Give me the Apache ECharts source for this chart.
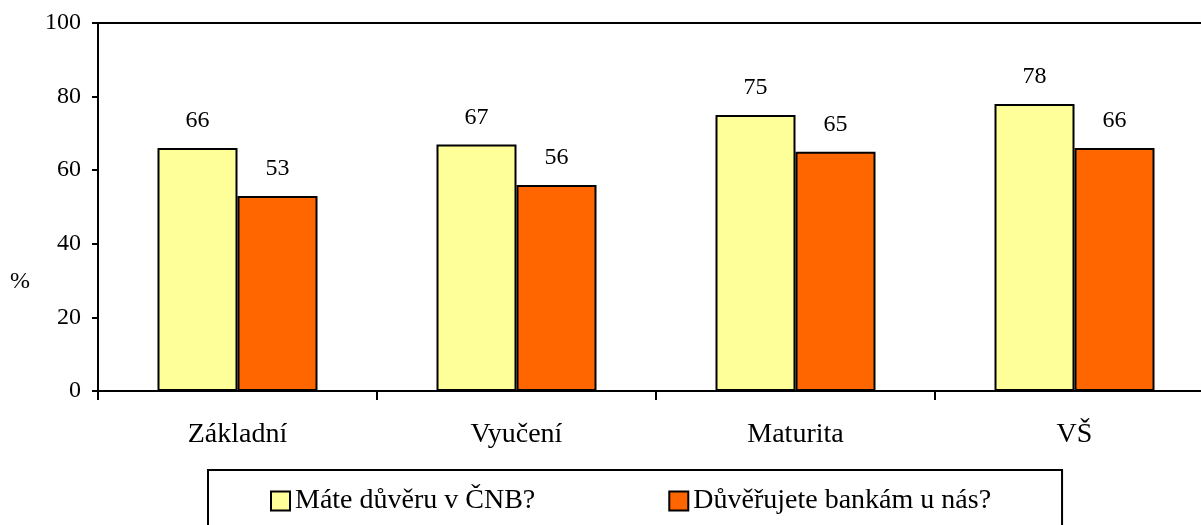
<!DOCTYPE html>
<html>
<head>
<meta charset="utf-8">
<script src="https://cdn.jsdelivr.net/npm/echarts@6/dist/echarts.min.js"></script>
<style>
  html, body { margin: 0; padding: 0; background: #fff; overflow: hidden; }
  /* plot area runs past the right edge in the original, so the canvas is wider than the window */
  #chart { width: 1240px; height: 525px; }
</style>
</head>
<body>
<div id="chart"></div>
<script>
// data
var categories = ['Základní', 'Vyučení', 'Maturita', 'VŠ'];
var seriesNames = ['Máte důvěru v ČNB?', 'Důvěřujete bankám u nás?'];
var duveraCnb = [66, 67, 75, 78];
var duveraBanky = [53, 56, 65, 66];

var serif = "'Liberation Serif', 'Times New Roman', serif";

var chart = echarts.init(document.getElementById('chart'));

function barSeries(name, data, color) {
  return {
    name: name,
    type: 'bar',
    data: data,
    barWidth: 80,
    barGap: '0%',
    itemStyle: { color: color, borderColor: '#000', borderWidth: 2 },
    label: {
      show: true,
      position: 'top',
      distance: 15,
      color: '#000',
      fontFamily: serif,
      fontSize: 24
    },
    emphasis: { disabled: true }
  };
}

chart.setOption({
  animation: false,
  backgroundColor: '#fff',
  grid: {
    left: 98, top: 23, width: 1116, height: 368,
    show: true, borderColor: '#000', borderWidth: 2
  },
  xAxis: {
    type: 'category',
    data: categories,
    axisLine: { lineStyle: { color: '#000', width: 2 } },
    axisTick: { show: true, length: 9, lineStyle: { color: '#000', width: 2 } },
    axisLabel: { color: '#000', fontFamily: serif, fontSize: 28, margin: 30 }
  },
  yAxis: {
    type: 'value',
    min: 0, max: 100, interval: 20,
    splitLine: { show: false },
    axisLine: { show: true, lineStyle: { color: '#000', width: 2 } },
    axisTick: { show: true, length: 6, lineStyle: { color: '#000', width: 2 } },
    axisLabel: { color: '#000', fontFamily: serif, fontSize: 24, margin: 17 }
  },
  legend: {
    left: 208, top: 470,
    padding: [17, 71, 20, 62],
    itemGap: 133,
    itemWidth: 19, itemHeight: 19,
    icon: 'rect',
    borderColor: '#000', borderWidth: 2,
    textStyle: { color: '#000', fontFamily: serif, fontSize: 28 },
    data: seriesNames
  },
  graphic: [{
    type: 'text', left: 10, top: 270,
    style: { text: '%', fill: '#000', font: '24px ' + serif }
  }],
  series: [
    barSeries(seriesNames[0], duveraCnb, '#FFFF99'),
    barSeries(seriesNames[1], duveraBanky, '#FF6600')
  ]
});
</script>
</body>
</html>
